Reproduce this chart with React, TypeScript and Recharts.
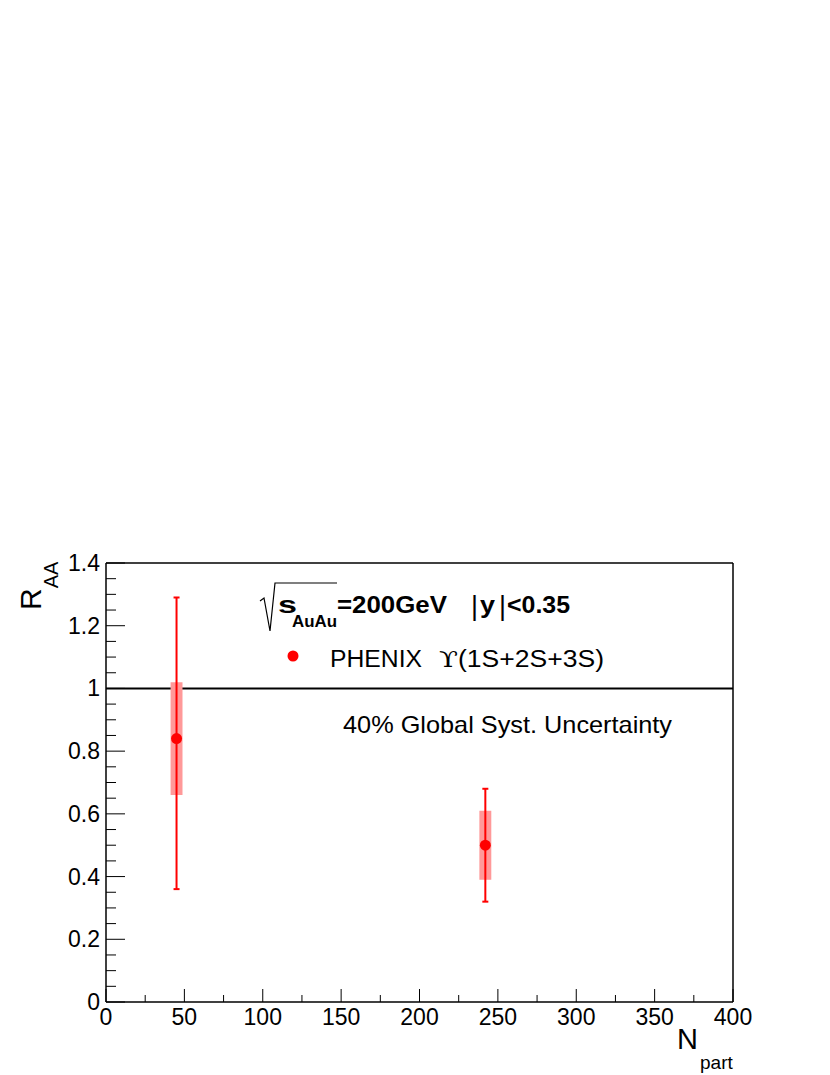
import { ComposedChart, Scatter, ErrorBar, XAxis, YAxis, ZAxis, ReferenceLine, ReferenceArea } from 'recharts';

// Npart centrality points, PHENIX Upsilon(1S+2S+3S) RAA
const npart = [45, 242];
const raa = [0.84, 0.5];
const statLow = [0.48, 0.18];
const statHigh = [0.45, 0.18];
const sysLow = [0.66, 0.39];
const sysHigh = [1.02, 0.61];

const xTicks = [0, 25, 50, 75, 100, 125, 150, 175, 200, 225, 250, 275, 300, 325, 350, 375, 400];
const xMajor = [0, 50, 100, 150, 200, 250, 300, 350, 400];
const yTicks = [0, 0.05, 0.1, 0.15, 0.2, 0.25, 0.3, 0.35, 0.4, 0.45, 0.5, 0.55, 0.6, 0.65, 0.7, 0.75, 0.8, 0.85, 0.9, 0.95, 1, 1.05, 1.1, 1.15, 1.2, 1.25, 1.3, 1.35, 1.4];
const yMajor = [0, 0.2, 0.4, 0.6, 0.8, 1, 1.2, 1.4];

const BOX_HALF = 3.8;
const FONT = '"Liberation Sans", Arial, Helvetica, sans-serif';

const data = npart.map((x, i) => ({ x, y: raa[i], z: 1, err: [statLow[i], statHigh[i]] }));

const isMajor = (list: number[], v: number) => list.some((m) => Math.abs(m - v) < 1e-6);

const YTick = (props: any) => {
    const { y, payload } = props;
    const x = 106;
    const major = isMajor(yMajor, payload.value);
    return (
        <g>
            <line x1={x} y1={y} x2={x + (major ? 19 : 10)} y2={y} stroke="#000" strokeWidth={1} />
            {major && (
                <text x={x - 6} y={y} dy={8} textAnchor="end" fontSize={23} fontFamily={FONT} fill="#000">
                    {String(payload.value)}
                </text>
            )}
        </g>
    );
};

const XTick = (props: any) => {
    const { x, payload } = props;
    const y = 1002;
    const major = isMajor(xMajor, payload.value);
    return (
        <g>
            <line x1={x} y1={y} x2={x} y2={y - (major ? 13 : 7)} stroke="#000" strokeWidth={1} />
            {major && (
                <text x={x} y={y + 23} textAnchor="middle" fontSize={23} fontFamily={FONT} fill="#000">
                    {String(payload.value)}
                </text>
            )}
        </g>
    );
};

export default function App() {
    return (
        <div style={{ position: 'absolute', left: 0, top: 0, width: 830, height: 1075, background: '#fff' }}>
            <ComposedChart width={830} height={1075} data={data} margin={{ top: 562, right: 96, bottom: 72, left: 105 }}>
                <XAxis
                    type="number"
                    dataKey="x"
                    domain={[0, 400]}
                    ticks={xTicks}
                    interval={0}
                    height={1}
                    tickSize={0}
                    tickMargin={0}
                    tickLine={false}
                    tick={<XTick />}
                    axisLine={{ stroke: '#000', strokeWidth: 1.5 }}
                    allowDataOverflow
                />
                <XAxis xAxisId="top" orientation="top" type="number" domain={[0, 400]} height={1} tick={false} tickLine={false} axisLine={{ stroke: '#000', strokeWidth: 1.5 }} />
                <YAxis
                    type="number"
                    dataKey="y"
                    domain={[0, 1.4]}
                    ticks={yTicks}
                    interval={0}
                    width={1}
                    tickSize={0}
                    tickMargin={0}
                    tickLine={false}
                    tick={<YTick />}
                    axisLine={{ stroke: '#000', strokeWidth: 1.5 }}
                    allowDataOverflow
                />
                <YAxis yAxisId="right" orientation="right" type="number" domain={[0, 1.4]} width={1} tick={false} tickLine={false} axisLine={{ stroke: '#000', strokeWidth: 1.5 }} />
                <ZAxis type="number" dataKey="z" range={[95, 95]} />
                <ReferenceLine y={1} stroke="#000" strokeWidth={2} zIndex={100} />
                {npart.map((x, i) => (
                    <ReferenceArea
                        key={i}
                        x1={x - BOX_HALF}
                        x2={x + BOX_HALF}
                        y1={sysLow[i]}
                        y2={sysHigh[i]}
                        fill="#ff9999"
                        fillOpacity={1}
                        stroke="none"
                        zIndex={200}
                    />
                ))}
                <Scatter dataKey="y" fill="#ff0000" shape="circle" isAnimationActive={false}>
                    <ErrorBar dataKey="err" direction="y" width={3} stroke="#ff0000" strokeWidth={2} isAnimationActive={false} />
                </Scatter>

                {/* annotations */}
                <g fontFamily={FONT} fill="#000">
                    <path d="M260 601 L264 598 L270 631 L275 583 L337 583" fill="none" stroke="#000" strokeWidth={1.2} />
                    <text x={278} y={613} fontSize={24} fontWeight="bold" textLength={19} lengthAdjust="spacingAndGlyphs">s</text>
                    <text x={292} y={627} fontSize={16} fontWeight="bold" textLength={45} lengthAdjust="spacingAndGlyphs">AuAu</text>
                    <text x={337} y={613} fontSize={23} fontWeight="bold" textLength={110} lengthAdjust="spacingAndGlyphs">=200GeV</text>
                    <text x={471} y={615} fontSize={27}>|</text>
                    <text x={480} y={613} fontSize={23} fontWeight="bold" textLength={15} lengthAdjust="spacingAndGlyphs">y</text>
                    <text x={499} y={615} fontSize={27}>|</text>
                    <text x={507} y={613} fontSize={23} fontWeight="bold" textLength={63} lengthAdjust="spacingAndGlyphs">&lt;0.35</text>
                    <circle cx={293} cy={656} r={5.5} fill="#ff0000" />
                    <text x={330} y={667} fontSize={23} textLength={92} lengthAdjust="spacingAndGlyphs">PHENIX</text>
                    <text x={439} y={667} fontSize={23} fontFamily='"DejaVu Serif", "Liberation Serif", serif' textLength={19} lengthAdjust="spacingAndGlyphs">ϒ</text>
                    <text x={458} y={667} fontSize={23} textLength={146} lengthAdjust="spacingAndGlyphs">(1S+2S+3S)</text>
                    <text x={343} y={733} fontSize={24} textLength={329} lengthAdjust="spacingAndGlyphs">40% Global Syst. Uncertainty</text>
                    <text x={41} y={610} fontSize={30} transform="rotate(-90, 41, 610)">
                        R<tspan dy={17} fontSize={20}>AA</tspan>
                    </text>
                    <text x={677} y={1049} fontSize={29}>N</text>
                    <text x={700} y={1069} fontSize={19}>part</text>
                </g>
            </ComposedChart>
        </div>
    );
}
